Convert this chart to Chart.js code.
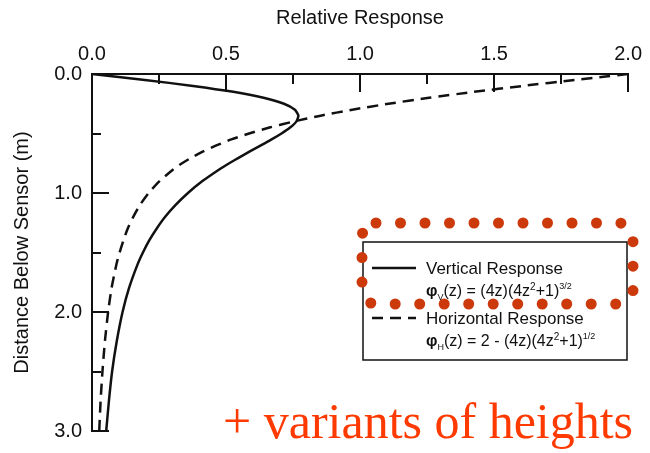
<!DOCTYPE html>
<html>
<head>
<meta charset="utf-8">
<script src="https://cdn.jsdelivr.net/npm/chart.js@4.4.1/dist/chart.umd.min.js"></script>
<style>
  html, body { margin: 0; padding: 0; background: #fff; }
  #wrap { width: 650px; height: 453px; position: relative; }
</style>
</head>
<body>
<div id="wrap"><canvas id="c"></canvas></div>
<script>
// Depth below the sensor (m) and the relative response at each depth
const depth = [0, 0.025, 0.05, 0.1, 0.15, 0.2, 0.25, 0.3, 0.35, 0.4, 0.45, 0.5, 0.55, 0.6, 0.65, 0.7, 0.75, 0.8, 0.9, 1.0, 1.1, 1.2, 1.3, 1.4, 1.5, 1.6, 1.8, 2.0, 2.25, 2.5, 2.75, 3.0];
const verticalResponse = [0, 0.0996, 0.197, 0.377, 0.527, 0.640, 0.716, 0.757, 0.770, 0.762, 0.739, 0.707, 0.670, 0.630, 0.589, 0.550, 0.512, 0.476, 0.412, 0.358, 0.312, 0.273, 0.241, 0.213, 0.190, 0.170, 0.138, 0.114, 0.092, 0.075, 0.063, 0.053];
const horizontalResponse = [2.0, 1.900, 1.801, 1.608, 1.425, 1.257, 1.106, 0.971, 0.853, 0.751, 0.662, 0.586, 0.520, 0.464, 0.415, 0.373, 0.336, 0.304, 0.252, 0.211, 0.179, 0.154, 0.133, 0.117, 0.103, 0.091, 0.073, 0.060, 0.048, 0.039, 0.032, 0.027];

const xTickLabels = ['0.0', '0.5', '1.0', '1.5', '2.0'];
const yTickLabels = ['0.0', '1.0', '2.0', '3.0'];
const seriesNames = ['Vertical Response', 'Horizontal Response'];

const INK = '#111';
const SANS = '"Liberation Sans", Arial, sans-serif';
const SERIF = '"Liberation Serif", "DejaVu Serif", serif';

function toPoints(values) {
  return values.map((v, i) => ({ x: v, y: depth[i] }));
}

// Short tick marks pointing into the plot, majors longer than minors
const inwardTicks = {
  id: 'inwardTicks',
  afterDatasetsDraw(chart) {
    const { ctx, chartArea: a, scales: { x, y } } = chart;
    ctx.save();
    ctx.strokeStyle = INK;
    ctx.lineWidth = 2;
    for (let i = 0; i <= 8; i++) {
      const px = Math.round(x.getPixelForValue(i * 0.25));
      const len = i % 2 === 0 ? 18 : 10;
      ctx.beginPath(); ctx.moveTo(px, a.top); ctx.lineTo(px, a.top + len); ctx.stroke();
    }
    for (let i = 0; i <= 6; i++) {
      const py = Math.round(y.getPixelForValue(i * 0.5));
      const len = i % 2 === 0 ? 17 : 9;
      ctx.beginPath(); ctx.moveTo(a.left, py); ctx.lineTo(a.left + len, py); ctx.stroke();
    }
    ctx.restore();
  }
};

// Draws a run of text pieces with sub/superscripts
function drawRich(ctx, x, y, parts) {
  let cx = x;
  for (const p of parts) {
    ctx.font = (p.bold ? 'bold ' : '') + p.size + 'px ' + SANS;
    ctx.fillText(p.t, cx, y + (p.dy || 0));
    cx += ctx.measureText(p.t).width + (p.gap || 0);
  }
}

// Boxed legend with the two response formulas
const formulaLegend = {
  id: 'formulaLegend',
  afterDraw(chart) {
    const { ctx } = chart;
    const ds = chart.data.datasets;
    const box = { left: 363, top: 242, right: 627, bottom: 360 };
    ctx.save();
    ctx.fillStyle = '#fff';
    ctx.fillRect(box.left, box.top, box.right - box.left, box.bottom - box.top);
    ctx.strokeStyle = INK;
    ctx.lineWidth = 1.5;
    ctx.strokeRect(box.left, box.top, box.right - box.left, box.bottom - box.top);

    const rows = [
      { y: 268, name: ds[0].label, dash: ds[0].borderDash || [],
        formula: [{ t: 'φ', size: 16, bold: true }, { t: 'V', size: 9, dy: 4 },
                  { t: '(z) = (4z)(4z', size: 16 }, { t: '2', size: 10, dy: -6 },
                  { t: '+1)', size: 16 }, { t: '3/2', size: 9, dy: -7 }] },
      { y: 318, name: ds[1].label, dash: ds[1].borderDash || [],
        formula: [{ t: 'φ', size: 16, bold: true }, { t: 'H', size: 9, dy: 4 },
                  { t: '(z) = 2 - (4z)(4z', size: 16 }, { t: '2', size: 10, dy: -6 },
                  { t: '+1)', size: 16 }, { t: '1/2', size: 9, dy: -7 }] }
    ];
    for (const r of rows) {
      ctx.strokeStyle = INK;
      ctx.lineWidth = 2.5;
      ctx.setLineDash(r.dash);
      ctx.beginPath(); ctx.moveTo(372, r.y); ctx.lineTo(416, r.y); ctx.stroke();
      ctx.setLineDash([]);
      ctx.fillStyle = INK;
      ctx.textBaseline = 'alphabetic';
      ctx.font = '17px ' + SANS;
      ctx.fillText(r.name, 426, r.y + 6);
      drawRich(ctx, 426, r.y + 28, r.formula);
    }

    // Red dotted highlight around the vertical-response entry
    ctx.strokeStyle = '#cc3a0c';
    ctx.lineWidth = 11;
    ctx.lineCap = 'round';
    ctx.setLineDash([0, 24.5]);
    ctx.beginPath();
    ctx.roundRect(362, 223, 271, 81, 14);
    ctx.stroke();
    ctx.setLineDash([]);

    // Red note
    ctx.fillStyle = '#ff3a00';
    ctx.font = '50px ' + SERIF;
    ctx.fillText('+ variants of heights', 223, 438);
    ctx.restore();
  }
};

new Chart(document.getElementById('c'), {
  type: 'scatter',
  data: {
    datasets: [
      {
        label: seriesNames[0],
        data: toPoints(verticalResponse),
        showLine: true,
        borderColor: INK,
        borderWidth: 2.5,
        pointRadius: 0,
        tension: 0.2,
        fill: false
      },
      {
        label: seriesNames[1],
        data: toPoints(horizontalResponse),
        showLine: true,
        borderColor: INK,
        borderWidth: 2.5,
        borderDash: [11, 7],
        pointRadius: 0,
        tension: 0.2,
        fill: false
      }
    ]
  },
  options: {
    responsive: true,
    maintainAspectRatio: false,
    animation: false,
    layout: { padding: { left: 0, top: 0, right: 20, bottom: 13 } },
    plugins: { legend: { display: false }, tooltip: { enabled: false } },
    scales: {
      x: {
        type: 'linear',
        position: 'top',
        min: 0, max: 2,
        afterFit(s) { s.height = 74; },
        ticks: {
          stepSize: 0.5, autoSkip: false, maxRotation: 0, padding: 8,
          color: INK, font: { family: SANS, size: 20 },
          callback: (v) => xTickLabels[Math.round(v * 2)]
        },
        grid: { display: true, drawOnChartArea: false, drawTicks: false },
        border: { display: true, color: INK, width: 2 },
        title: {
          display: true, text: 'Relative Response', color: INK,
          font: { family: SANS, size: 20 }, padding: { top: 6, bottom: 0 }
        }
      },
      y: {
        type: 'linear',
        reverse: true,
        min: 0, max: 3,
        afterFit(s) { s.width = 92; },
        ticks: {
          stepSize: 1, autoSkip: false, padding: 10,
          color: INK, font: { family: SANS, size: 20 },
          callback: (v) => yTickLabels[Math.round(v)]
        },
        grid: { display: true, drawOnChartArea: false, drawTicks: false },
        border: { display: true, color: INK, width: 2 },
        title: {
          display: true, text: 'Distance Below Sensor (m)', color: INK,
          font: { family: SANS, size: 20 }, padding: { top: 10, bottom: 0 }
        }
      }
    }
  },
  plugins: [inwardTicks, formulaLegend]
});
</script>
</body>
</html>
